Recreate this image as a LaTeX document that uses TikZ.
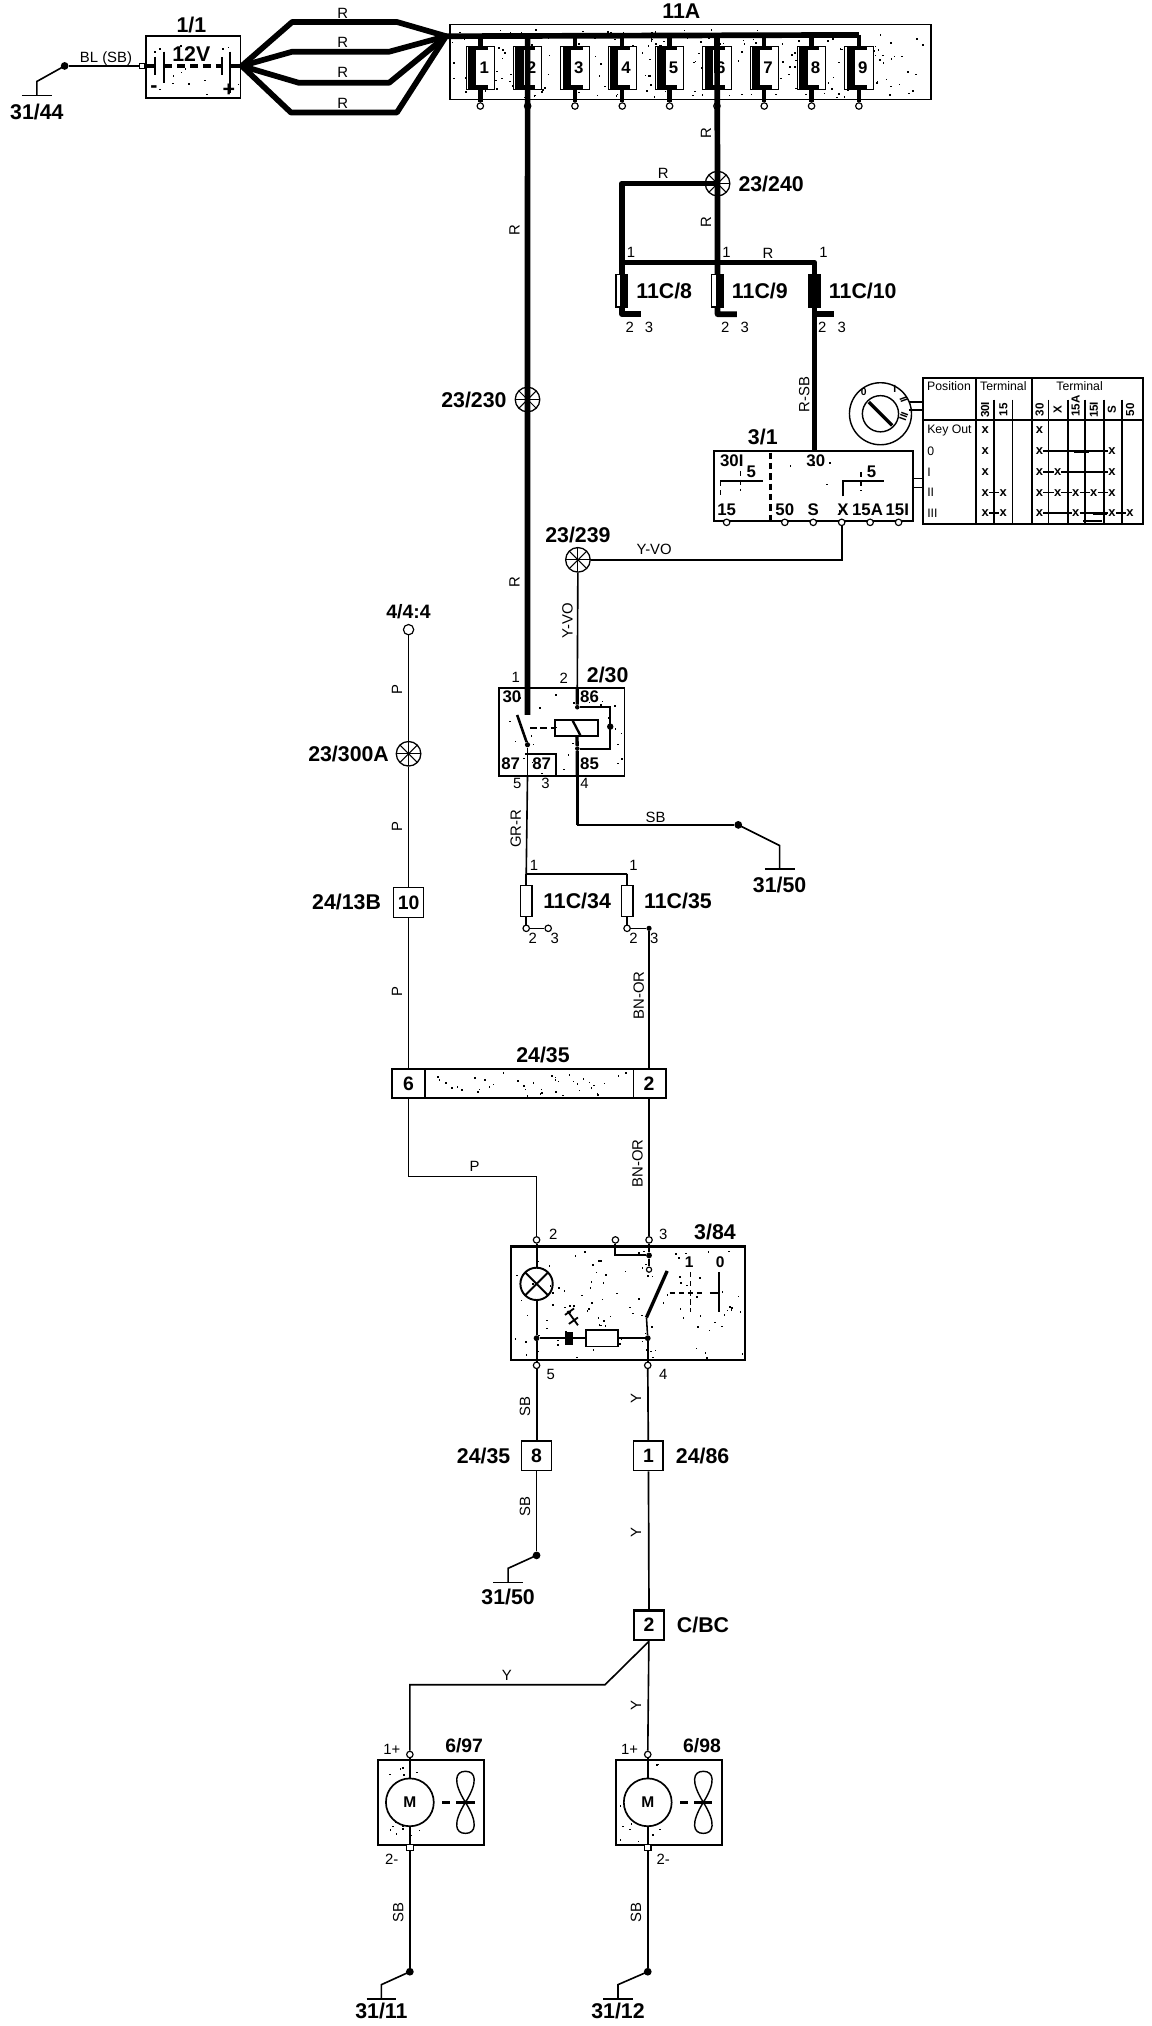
\documentclass[tikz,border=0pt]{standalone}
\usepackage{fontspec}
\setmainfont{Liberation Sans}
\usetikzlibrary{positioning,calc}
\tikzset{
    thinw/.style={line width=1.25pt},
    medw/.style={line width=2.6pt},
    fatw/.style={line width=4.4pt, line join=round},
    tag/.style={font=\bfseries\fontsize{16.5}{17}\selectfont, inner sep=0pt},
    pin/.style={font=\bfseries\fontsize{13}{13}\selectfont, inner sep=0pt},
    num/.style={font=\fontsize{11.5}{12}\selectfont, inner sep=0pt},
    colr/.style={font=\fontsize{11.5}{12}\selectfont, inner sep=0pt},
    rcolr/.style={colr, rotate=90},
    tab/.style={font=\fontsize{9.5}{10}\selectfont, inner sep=0pt},
    xmark/.style={font=\bfseries\fontsize{10}{10}\selectfont, inner sep=0pt},
    box/.style={draw, line width=1.4pt, inner sep=0pt},
    conn/.style={draw, line width=1.2pt, inner sep=0pt, minimum width=23pt, minimum height=23pt, font=\bfseries\fontsize{15}{15}\selectfont},
    term/.style={circle, draw, fill=white, line width=.9pt, inner sep=0pt, minimum size=5pt},
    jdot/.style={circle, fill, inner sep=0pt, minimum size=6pt},
    splice/.style={circle, draw, fill=white, line width=1pt, inner sep=0pt, minimum size=19pt,
        path picture={\foreach \a in {0,45,90,135}
            \draw[line width=.8pt] ($(path picture bounding box.center)+(\a:10pt)$) -- ($(path picture bounding box.center)+(\a+180:10pt)$);}},
}
\newcommand{\speckle}[5]{%
    \foreach \i in {1,...,#5}{%
        \pgfmathsetmacro{\px}{#1+rnd*(#3-#1)}%
        \pgfmathsetmacro{\py}{#2+rnd*(#4-#2)}%
        \fill (\px,\py) rectangle +(1.2,1.2);}}
\begin{document}
\begin{tikzpicture}[x=1pt,y=-1pt]
    \useasboundingbox (0,0) rectangle (891,1567);
    \pgfmathsetseed{7}

    % Grounds
    \foreach \nm/\dx/\dy/\bx/\by/\gy in {a/50/51/28.5/63/74, b/571/638/603/654/672,
        c/415/1203/393/1213/1224, d/317/1525/295/1535/1546, e/501/1525/478/1535/1546}{
        \node[jdot] (gd\nm) at (\dx,\dy) {};
        \coordinate (gb\nm) at (\bx,\by);
        \coordinate (gs\nm) at (\bx,\gy);
        \draw[thinw] (gd\nm.center) -- (gb\nm) -- (gs\nm);
        \draw[thinw] ([xshift=-11.5pt]gs\nm) -- ([xshift=11.5pt]gs\nm);
    }
    \node[tag, below=6pt of gsa] (gla) {31/44};
    \node[tag, below=6pt of gsb] (glb) {31/50};
    \node[tag, below=5pt of gsc] (glc) {31/50};
    \node[tag, below=3pt of gsd] (gld) {31/11};
    \node[tag, below=3pt of gse] (gle) {31/12};

    % Battery
    \node[box, minimum width=73pt, minimum height=48pt] (bat) at (149.5,52) {};
    \speckle{115}{30}{185}{74}{18}
    \node[tag] (batname) at (148,19) {1/1};
    \node[tag, fill=white, inner xsep=1pt] (batv) at (148,42) {12V};
    \node[term, rectangle, minimum size=4pt] (batneg) at (110,51) {};
    \coordinate (batpos) at (187,51);
    \draw[thinw] (gda) -- (batneg);
    \node[colr] (blsb) at (82,45) {BL (SB)};
    \draw[medw] (batneg) -- (120,51);
    \draw[line width=1.4pt] (120,44) -- (120,58) (127,40) -- (127,64) (172,44) -- (172,58) (178,40) -- (178,72);
    \draw[medw, dash pattern=on 6pt off 4pt] (127,51) -- (172,51);
    \draw[medw] (178,51) -- (batpos);
    \node[tag] (batm) at (119,69) {-};
    \node[tag] (batp) at (177,70) {+};

    % Feeds from battery to bus
    \coordinate (busin) at (345,28);
    \draw[fatw] (batpos) -- (226,17) -- (307,17) -- (busin);
    \draw[fatw] (batpos) -- (226,40) -- (301,40) -- (busin);
    \draw[fatw] (batpos) -- (231,64) -- (301,64) -- (busin);
    \draw[fatw] (batpos) -- (225,87) -- (307,87) -- (busin);
    \foreach \y in {10,33,56,80}
        \node[colr, fill=white, inner sep=.5pt] (rl\y) at (265,\y) {R};

    % Fuse box 11A
    \node[box, minimum width=372pt, minimum height=58pt] (fa) at (534,48) {};
    \speckle{348}{22}{718}{75}{260}
    \node[tag] (faname) at (527,9) {11A};
    \coordinate (busend) at (664.3,27);
    \draw[fatw] (busin) -- (busend);
    \foreach \n [evaluate=\n as \fx using 371.5+36.6*(\n-1)] in {1,...,9}{
        \coordinate (s\n) at (\fx,27);
        \node[term] (t\n) at (\fx,82) {};
        \draw[line width=3.4pt] (s\n) -- (t\n);
        \node[draw, fill=white, line width=.8pt, minimum width=22pt, minimum height=33pt, inner sep=0pt] (fo\n) at (\fx,52.5) {};
        \fill ($(\fx,36)+(-9.5,0)$) rectangle ($(\fx,69)+(-3,0)$);
        \fill ($(\fx,36)+(-9.5,0)$) rectangle ($(\fx,39)+(6,0)$);
        \fill ($(\fx,66)+(-9.5,0)$) rectangle ($(\fx,69)+(6,0)$);
        \node[font=\bfseries\fontsize{13}{13}\selectfont, inner sep=0pt] (d\n) at ($(\fx,52.5)+(3,0)$) {\n};
    }

    % Feed 2 to relay
    \node[splice] (sp230) at (408,309) {};
    \node[tag, left=6pt of sp230] (sp230l) {23/230};
    \node[box, minimum width=97pt, minimum height=68pt] (rel) at (434.5,566) {};
    \speckle{389}{535}{481}{598}{30}
    \coordinate (relc) at (408,553);
    \draw[fatw] (s2) -- (sp230.center) -- (relc);
    \node[rcolr] (r2a) at (398,178) {R};
    \node[rcolr] (r2b) at (398,450) {R};

    % Feed 6 to 11C fuses
    \node[splice] (sp240) at (555,142) {};
    \node[tag, right=6pt of sp240] (sp240l) {23/240};
    \coordinate (c8) at (481,203);
    \coordinate (c9) at (555,203);
    \coordinate (c10) at (630,203);
    \coordinate (c8b) at (481,243);
    \coordinate (c9b) at (555,243);
    \coordinate (c10b) at (630,243);
    \draw[fatw] (s6) -- (sp240.center) -- (c9) -- (c9b) -- ++(15,0);
    \draw[fatw] (sp240.center) -| (c8) -- (c8b) -- ++(15,0);
    \draw[fatw] (c8) -- (c10) -- (c10b) -- ++(15,0);
    \node[rcolr] (r6a) at (546,103) {R};
    \node[rcolr] (r6b) at (546,172) {R};
    \node[colr] (r6c) at (513,134) {R};
    \node[colr] (r6d) at (594,196) {R};
    \foreach \f/\x/\lab in {8/481/{11C/8}, 9/555/{11C/9}, 10/630/{11C/10}}{
        \node[draw, fill=white, line width=.9pt, minimum width=9pt, minimum height=25pt, inner sep=0pt] (cf\f) at (\x,225) {};
        \fill (\x-1.5,212.5) rectangle (\x+4.5,237.5);
        \node[tag, right=6pt of cf\f] (cfl\f) {\lab};
        \node[num] (cfa\f) at (\x+7,195) {1};
        \node[num] (cfb\f) at (\x+6,253) {2};
        \node[num] (cfc\f) at (\x+21,253) {3};
    }
    \fill (630-4.5,212.5) rectangle (630+4.5,237.5);

    % Ignition switch 3/1
    \node[box, minimum width=154pt, minimum height=54pt] (sw) at (629,376) {};
    \speckle{556}{352}{703}{401}{6}
    \node[tag] (swname) at (590,338) {3/1};
    \coordinate (sw30) at (630,349);
    \draw[line width=3.6pt] (c10b) -- (sw30);
    \node[rcolr] (rsb) at (622,305) {R-SB};
    \foreach \nm/\x/\y/\t in {a/566/356/30I, b/631/356/30, c/581/365/5, d/674/365/5, e/562/394/15,
        f/607/394/50, g/629/394/S, h/652/394/X, i/671/394/15A, j/694/394/15I}
        \node[pin] (sl\nm) at (\x,\y) {\t};
    \foreach \nm/\x in {a/562, b/607, c/629, d/651, e/673, f/695}
        \node[term] (st\nm) at (\x,404) {};
    \draw[line width=2pt, dash pattern=on 5pt off 3pt] (596,350) -- (596,402);
    \draw[line width=2pt] (557,372) -- (590,372);
    \draw[line width=1pt, dash pattern=on 4pt off 3pt] (557,372) -- (557,384) (573,364) -- (573,380);
    \draw[thinw] (652,384) -- (652,372) -- (684,372);
    \draw[thinw, dash pattern=on 4pt off 3pt] (666,365) -- (666,380);
    \draw[thinw] (706,370) -- (714,370) (706,377) -- (714,377);

    % Key lock
    \node[circle, draw, line width=1.1pt, minimum size=48pt, inner sep=0pt] (key) at (681,320) {};
    \node[circle, draw, line width=1.1pt, minimum size=28pt, inner sep=0pt, above=0pt of key.center, anchor=center] (keyin) {};
    \draw[line width=2.6pt] ($(key.center)+(-9,-9)$) -- ($(key.center)+(9,9)$);
    \node[tab, font=\bfseries\fontsize{8}{8}\selectfont] (k0) at (668,303) {0};
    \node[tab, font=\bfseries\fontsize{8}{8}\selectfont] (k1) at (692,301) {I};
    \node[tab, font=\bfseries\fontsize{8}{8}\selectfont, rotate=-70] (k2) at (699,309) {II};
    \node[tab, font=\bfseries\fontsize{8}{8}\selectfont, rotate=-110] (k3) at (699,322) {III};
    \draw[thinw] (703,311) -- (714,311) (703,317) -- (714,317);

    % Table of positions
    \node[box, minimum width=170pt, minimum height=113pt] (tb) at (799,349) {};
    \draw[thinw] (714,325) -- (884,325);
    \draw[thinw] (755,293) -- (755,405) (798,293) -- (798,405);
    \foreach \x in {769,783,811,826,839,854,868}
        \draw[thinw] (\x,309) -- (\x,405);
    \node[tab] (tpos) at (734,299) {Position};
    \node[tab] (tt1) at (776,298.5) {Terminal};
    \node[tab] (tt2) at (835,298.5) {Terminal};
    \foreach \nm/\x/\y/\t in {a/762/317/30I, b/776/317/15, c/804/317/30, d/818/317/X, e/832/314/15A, f/846/317/15I, g/860/317/S, h/874/317/50}
        \node[tab, rotate=90, font=\bfseries\fontsize{9}{9}\selectfont] (th\nm) at (\x,\y) {\t};
    \foreach \nm/\y/\t in {a/333/Key Out, b/349/0, c/365/I, d/381/II, e/397/III}
        \node[tab, anchor=west] (tr\nm) at (717,\y) {\t};
    \foreach \y/\cols in {333/{762,804}, 349/{762,804,860}, 365/{762,804,818,860},
        381/{762,776,804,818,832,846,860}, 397/{762,776,804,832,860,874}}
        \foreach \x in \cols
            \node[xmark] (m\y-\x) at (\x,\y) {x};
    \draw[thinw] (m349-804) -- (m349-860);
    \draw[thinw] (m365-804) -- (m365-818);
    \draw[thinw] (m365-818) -- (m365-860);
    \foreach \y in {381,397}
        \draw[thinw] (m\y-762) -- (m\y-776);
    \foreach \a/\b in {804/818, 818/832, 832/846, 846/860}
        \draw[thinw] (m381-\a) -- (m381-\b);
    \foreach \a/\b in {804/832, 832/860, 860/874}
        \draw[thinw] (m397-\a) -- (m397-\b);
    \draw[line width=2pt] (831,349) -- (842,349) (845,397) -- (856,397) (838,403) -- (852,403);

    % Y-VO
    \node[splice] (sp239) at (447,433) {};
    \node[tag, above=3pt of sp239] (sp239l) {23/239};
    \coordinate (xturn) at (651,433);
    \draw[thinw] (std) -- (xturn) -- (sp239);
    \node[colr] (yvoa) at (506,425) {Y-VO};
    \node[rcolr] (yvob) at (439,480) {Y-VO};

    % Relay 2/30
    \coordinate (r86) at (446.5,532);
    \coordinate (r85) at (446.5,600);
    \coordinate (r87a) at (408,600);
    \draw[thinw] (sp239) -- (r86);
    \node[num] (ra) at (399,524) {1};
    \node[num] (rb) at (436,525) {2};
    \node[tag] (rname) at (470,522) {2/30};
    \node[pin] (rc) at (396,539) {30};
    \node[pin] (rd) at (456,539) {86};
    \node[pin] (re) at (395,591) {87};
    \node[pin] (rf) at (419,591) {87};
    \node[pin] (rg) at (456,591) {85};
    \node[num] (rh) at (400,606) {5};
    \node[num] (ri) at (422,606) {3};
    \node[num] (rj) at (452,606) {4};
    \node[jdot, minimum size=3.5pt] (rk) at (446.5,547) {};
    \node[jdot, minimum size=3.5pt] (rl) at (446.5,579) {};
    \node[jdot, minimum size=4pt] (rm) at (408,576) {};
    \node[draw, line width=1.5pt, minimum width=33pt, minimum height=12pt, inner sep=0pt] (coil) at (446,563) {};
    \draw[line width=1.8pt] (443,557.5) -- (449,569);
    \draw[medw] (r86) -- (rk) (coil) -- (rl) -- (r85);
    \draw[line width=1.5pt] (rk) -- (472,547) -- (472,579) -- (rl);
    \node[jdot, minimum size=5pt] (rn) at (472,562) {};
    \draw[line width=2pt] (400,553) -- (rm);
    \draw[line width=1.5pt, dash pattern=on 5pt off 3pt] (410,563) -- (coil.west);
    \draw[line width=1.5pt] (rm) -- (r87a);
    \draw[line width=1.5pt] (406,583) -- (430,583) -- (430,600);

    % Relay outputs
    \coordinate (sbturn) at (446.5,638);
    \draw[medw] (r85) -- (sbturn);
    \draw[thinw] (sbturn) -- (gdb);
    \node[colr] (sblab) at (507,632) {SB};
    \coordinate (fj) at (407,676);
    \coordinate (fk) at (485,676);
    \draw[thinw] (r87a) -- (fj) -- (fk);
    \node[rcolr] (grr) at (399,641) {GR-R};
    \node[num] (fa1) at (413,669) {1};
    \node[num] (fb1) at (490,669) {1};
    \node[draw, line width=1pt, minimum width=9pt, minimum height=24pt, inner sep=0pt] (f34) at (407,697) {};
    \node[draw, line width=1pt, minimum width=9pt, minimum height=24pt, inner sep=0pt] (f35) at (485,697) {};
    \node[tag, right=8pt of f34] (f34l) {11C/34};
    \node[tag, right=8pt of f35] (f35l) {11C/35};
    \node[term] (f34a) at (407,718) {};
    \node[term] (f34b) at (424,718) {};
    \node[term] (f35a) at (485,718) {};
    \node[jdot, minimum size=4pt] (f35b) at (502,718) {};
    \draw[thinw] (fj) -- (f34) (f34) -- (f34a) -- (f34b);
    \draw[thinw] (fk) -- (f35) (f35) -- (f35a) -- (f35b);
    \node[num] (f34c) at (412,726) {2};
    \node[num] (f34d) at (429,726) {3};
    \node[num] (f35c) at (490,726) {2};
    \node[num] (f35d) at (506,726) {3};

    % Left feed 4/4:4
    \node[term, minimum size=8pt] (pin4) at (316,487) {};
    \node[pin, font=\bfseries\fontsize{15}{15}\selectfont, above=4pt of pin4] (pin4l) {4/4:4};
    \node[splice] (sp300) at (316,583) {};
    \node[tag, left=5pt of sp300] (sp300l) {23/300A};
    \node[conn] (c10box) at (316,698) {10};
    \node[tag, left=9pt of c10box] (c10l) {24/13B};
    \draw[thinw] (pin4) -- (sp300) -- (c10box);
    \node[rcolr] (pa) at (307,533) {P};
    \node[rcolr] (pb) at (307,639) {P};
    \node[rcolr] (pc) at (307,767) {P};

    % Connector 24/35
    \node[box, minimum width=212pt, minimum height=23pt] (con) at (409,838) {};
    \speckle{331}{829}{488}{847}{40}
    \node[tag] (conname) at (420,816) {24/35};
    \draw[line width=1.4pt] (329,826.5) -- (329,849.5) (490,826.5) -- (490,849.5);
    \node[font=\bfseries\fontsize{15}{15}\selectfont, inner sep=0pt] (con6) at (316,838) {6};
    \node[font=\bfseries\fontsize{15}{15}\selectfont, inner sep=0pt] (con2) at (502,838) {2};
    \coordinate (ctop6) at (316,826);
    \coordinate (cbot6) at (316,849);
    \coordinate (ctop2) at (502,826);
    \coordinate (cbot2) at (502,849);
    \draw[thinw] (c10box) -- (ctop6);
    \draw[line width=1.6pt] (f35b) -- (ctop2);
    \node[rcolr] (bna) at (494,770) {BN-OR};

    % Switch 3/84
    \node[box, line width=1.8pt, minimum width=181pt, minimum height=88pt] (hz) at (485.5,1008) {};
    \speckle{398}{967}{574}{1050}{110}
    \node[tag] (hzname) at (553,953) {3/84};
    \node[term] (hz2) at (415,959) {};
    \node[term] (hz3) at (502,959) {};
    \node[term] (hzo) at (476,959) {};
    \node[term] (hz5) at (415,1056) {};
    \node[term] (hz4) at (501,1056) {};
    \node[num] (hzl2) at (428,955) {2};
    \node[num] (hzl3) at (513,955) {3};
    \node[num] (hzl5) at (426,1063) {5};
    \node[num] (hzl4) at (513,1063) {4};
    \coordinate (pturn) at (316,910);
    \draw[thinw] (cbot6) -- (pturn) -| (hz2);
    \draw[thinw] (cbot2) -- (hz3);
    \node[colr] (pd) at (367,902) {P};
    \node[rcolr] (bnb) at (493,900) {BN-OR};
    \node[circle, draw, line width=1.5pt, minimum size=25pt, inner sep=0pt,
        path picture={\draw[line width=1.5pt] (path picture bounding box.south west) -- (path picture bounding box.north east)
            (path picture bounding box.north west) -- (path picture bounding box.south east);}] (lamp) at (415,993) {};
    \node[jdot, minimum size=4.5pt] (ja) at (415,1035) {};
    \node[jdot, minimum size=4.5pt] (jb) at (501,1035) {};
    \node[jdot, minimum size=4.5pt] (jc) at (502,971) {};
    \node[term, minimum size=4pt] (jd) at (502,982) {};
    \node[draw, fill=white, line width=1.4pt, minimum width=25pt, minimum height=13pt, inner sep=0pt] (res) at (465.5,1035) {};
    \draw[line width=1.5pt] (hz2) -- (lamp) (lamp) -- (ja) -- (hz5);
    \draw[line width=1.5pt] (ja) -- (res) (res) -- (jb) -- (hz4);
    \draw[line width=1.5pt] (hzo) |- (jc);
    \draw[line width=1.5pt] (hz3) -- (jc) -- (jd);
    \draw[line width=2.6pt] (516,983) -- (500,1019);
    \draw[line width=1.2pt] (500,1019) -- (jb);
    \fill (437,1030) rectangle (443,1040);
    \draw[line width=1.4pt] (437,1017) -- (444,1012) (440,1024) -- (447,1019) (439,1014) -- (447,1025);
    \node[num, font=\bfseries\fontsize{12}{12}\selectfont] (hz1t) at (533,976) {1};
    \node[num, font=\bfseries\fontsize{12}{12}\selectfont] (hz0t) at (557,976) {0};
    \draw[line width=1.3pt, dash pattern=on 4pt off 3pt] (518,1000) -- (544,1000) (534,984) -- (534,1015);
    \draw[line width=1.3pt] (549,1000) -- (556,1000) (556,984) -- (556,1015);

    % Lower connectors
    \node[conn] (c8box) at (415,1126) {8};
    \node[tag, left=8pt of c8box] (c8l) {24/35};
    \node[conn] (c1box) at (501.5,1126) {1};
    \node[tag, right=9pt of c1box] (c1l) {24/86};
    \node[conn, line width=1.8pt] (bcbox) at (502,1257) {2};
    \node[tag, right=9pt of bcbox] (bcl) {C/BC};
    \draw[line width=1.5pt] (hz5) -- (c8box);
    \draw[line width=1.3pt] (c8box) -- (gdc);
    \draw[line width=1.3pt] (hz4) -- (c1box);
    \draw[line width=1.3pt] (c1box) -- (bcbox);
    \node[rcolr] (sba) at (406,1088) {SB};
    \node[rcolr] (sbb) at (406,1165) {SB};
    \node[rcolr] (ya) at (492,1082) {Y};
    \node[rcolr] (yb) at (492,1185) {Y};
    \node[rcolr] (yc) at (492,1319) {Y};
    \node[colr] (yd) at (392,1296) {Y};

    % Fan motors
    \foreach \m/\x/\lab/\s in {a/317/{6/97}/-14, b/501/{6/98}/12}{
        \node[box, line width=1.6pt, minimum width=82pt, minimum height=66pt] (mb\m) at (\x+16.5,1394) {};
        \speckle{\x-22}{1364}{\x+55}{1424}{28}
        \node[tag, font=\bfseries\fontsize{15}{15}\selectfont] (mn\m) at (\x+42,1350) {\lab};
        \node[term] (mt\m) at (\x,1357) {};
        \node[term, rectangle, minimum size=5pt] (mu\m) at (\x,1429) {};
        \node[circle, draw, fill=white, line width=1.3pt, minimum size=37pt, inner sep=0pt, font=\bfseries\fontsize{12}{12}\selectfont] (mo\m) at (\x,1394) {M};
        \draw[line width=1.6pt] (mt\m) -- (mo\m) (mo\m) -- (mu\m);
        \node[num] (mp\m) at (\x-14,1353) {1+};
        \node[num] (mq\m) at (\x+\s,1438) {2-};
        \draw[line width=1.8pt] (\x+25,1394) -- (\x+31,1394) (\x+36,1394) -- (\x+50,1394);
        \draw[line width=1.1pt] (\x+43,1394) .. controls (\x+33,1378) and (\x+35,1370) .. (\x+43,1370) .. controls (\x+51,1370) and (\x+53,1378) .. (\x+43,1394)
            .. controls (\x+33,1410) and (\x+35,1418) .. (\x+43,1418) .. controls (\x+51,1418) and (\x+53,1410) .. (\x+43,1394);
    }
    \coordinate (ybend) at (468,1303);
    \coordinate (yturn) at (317,1303);
    \draw[thinw] (bcbox.south) -- (ybend) -- (yturn) -- (mta);
    \draw[thinw] (bcbox) -- (mtb);
    \draw[thinw] (mua) -- (gdd);
    \draw[thinw] (mub) -- (gde);
    \node[rcolr] (sbc) at (308,1479) {SB};
    \node[rcolr] (sbd) at (492,1479) {SB};
\end{tikzpicture}
\end{document}
